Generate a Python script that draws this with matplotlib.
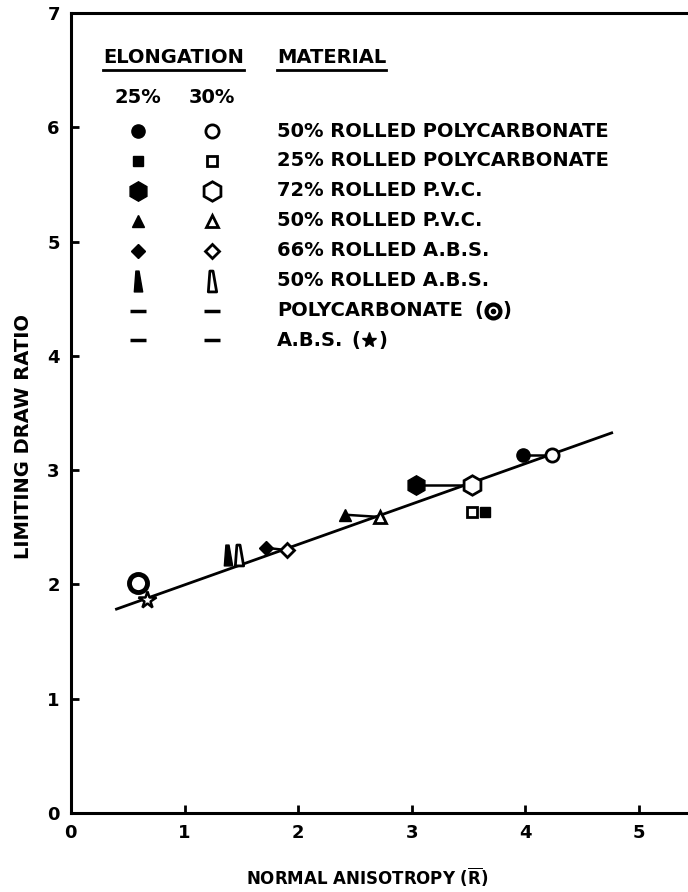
import matplotlib
matplotlib.use("Agg")
import matplotlib.pyplot as plt
from matplotlib.path import Path
from matplotlib.lines import Line2D

# values
materials = ["50% ROLLED POLYCARBONATE", "25% ROLLED POLYCARBONATE",
             "72% ROLLED P.V.C.", "50% ROLLED P.V.C.",
             "66% ROLLED A.B.S.", "50% ROLLED A.B.S."]
r_25 = [3.98, 3.64, 3.04, 2.41, 1.72, 1.38]      # 25% elongation, filled
ldr_25 = [3.13, 2.63, 2.87, 2.61, 2.32, 2.26]
r_30 = [4.23, 3.53, 3.53, 2.72, 1.90, 1.48]      # 30% elongation, open
ldr_30 = [3.13, 2.63, 2.87, 2.59, 2.30, 2.26]
joined = [True, False, True, True, True, False]

pc_r, pc_ldr = [0.59], [2.01]       # polycarbonate (ring)
abs_r, abs_ldr = [0.67], [1.86]     # A.B.S. (star)

fit_r = [0.39, 4.77]
fit_ldr = [1.78, 3.33]

x_ticks = [0, 1, 2, 3, 4, 5]
y_ticks = [0, 1, 2, 3, 4, 5, 6, 7]

plt.rcParams['font.family'] = ['DejaVu Sans']
plt.rcParams['font.weight'] = 'bold'
plt.rcParams['mathtext.fontset'] = 'dejavusans'

wedge = Path([(-0.25, 1.0), (0.05, 1.0), (0.4, -1.0), (-0.4, -1.0), (-0.25, 1.0)],
             [Path.MOVETO, Path.LINETO, Path.LINETO, Path.LINETO, Path.CLOSEPOLY])

# marker and size for each material
styles = [("o", 9.5), ("s", 7), ("h", 14), ("^", 9), ("D", 7), (wedge, 15)]

fig = plt.figure(figsize=(6.88, 8.92), dpi=100)
ax = fig.add_axes([0.103, 0.0886, 0.897, 0.8968])

ax.plot(fit_r, fit_ldr, color='k', lw=2.0, zorder=2, solid_capstyle='butt')

for i in range(len(materials)):
    m, ms = styles[i]
    if joined[i]:
        ax.plot([r_25[i], r_30[i]], [ldr_25[i], ldr_30[i]], color='k', lw=1.8, zorder=2)
    ax.plot(r_25[i], ldr_25[i], marker=m, ms=ms, color='k', mec='k', ls='none', zorder=3)
    ax.plot(r_30[i], ldr_30[i], marker=m, ms=ms, mfc='white', mec='k', mew=2.0,
            ls='none', zorder=3)

ax.plot(pc_r, pc_ldr, marker='o', ms=13, mfc='white', mec='k', mew=3.5, ls='none', zorder=3)
ax.plot(pc_r, pc_ldr, marker='*', ms=4, color='white', ls='none', zorder=4)
ax.plot(abs_r, abs_ldr, marker='*', ms=13, mfc='white', mec='k', mew=1.8, ls='none', zorder=3)

ax.set_xlim(0, 5.43)
ax.set_ylim(0, 7)
ax.set_xticks(x_ticks)
ax.set_yticks(y_ticks)
ax.tick_params(direction='in', length=6, width=2, labelsize=13, pad=8)
for lab in ax.get_xticklabels() + ax.get_yticklabels():
    lab.set_fontweight('bold')
for s in ['left', 'bottom', 'top']:
    ax.spines[s].set_linewidth(2.2)
ax.spines['right'].set_visible(False)

ax.set_xlabel(r"NORMAL ANISOTROPY $\mathbf{(}\overline{\mathbf{R}}\mathbf{)}$",
              fontsize=12, fontweight='bold')
ax.xaxis.set_label_coords(0.48, -0.066)
ax.set_ylabel("LIMITING DRAW RATIO", fontsize=14, fontweight='bold')
ax.yaxis.set_label_coords(-0.062, 0.47)

# key, drawn in axes fractions
col1, col2, col_txt = 0.109, 0.229, 0.334
row0, step = 0.8525, 0.0374
tkw = dict(transform=ax.transAxes, fontsize=14, fontweight='bold', va='center')

h1 = ax.text(0.166, 0.945, "ELONGATION", ha='center', **tkw)
h2 = ax.text(col_txt, 0.945, "MATERIAL", ha='left', **tkw)
ax.text(col1, 0.895, "25%", ha='center', **tkw)
ax.text(col2, 0.895, "30%", ha='center', **tkw)

for i in range(len(materials)):
    m, ms = styles[i]
    yy = row0 - i * step
    ax.plot(col1, yy, marker=m, ms=ms, color='k', transform=ax.transAxes,
            clip_on=False)
    ax.plot(col2, yy, marker=m, ms=ms, mfc='white', mec='k', mew=2.0,
            transform=ax.transAxes, clip_on=False)
    ax.text(col_txt, yy, materials[i], ha='left', **tkw)

extra = ["POLYCARBONATE", "A.B.S."]
txts = []
for j, name in enumerate(extra):
    yy = row0 - (6 + j) * step
    for cx in (col1, col2):
        ax.plot(cx, yy, marker='_', ms=11, mew=2.5, color='k',
                transform=ax.transAxes, clip_on=False)
    txts.append(ax.text(col_txt, yy, name, ha='left', **tkw))

fig.canvas.draw()
inv = ax.transAxes.inverted()
r = fig.canvas.get_renderer()

# underline the headings
for h in (h1, h2):
    bb = h.get_window_extent(r)
    (x0, y0), (x1, _) = inv.transform([(bb.x0, bb.y0 - 3), (bb.x1, bb.y0 - 3)])
    ax.add_line(Line2D([x0, x1], [y0, y0], color='k', lw=2.0, transform=ax.transAxes,
                       clip_on=False))

# "(symbol)" after the two single-material rows
for j, t in enumerate(txts):
    bb = t.get_window_extent(r)
    yy = row0 - (6 + j) * step
    gap = 16 if j == 0 else 12
    xo = inv.transform([(bb.x1 + gap, 0), (bb.x1 + gap + 14, 0), (bb.x1 + gap + 28, 0)])[:, 0]
    ax.text(xo[0], yy, "(", ha='center', **tkw)
    ax.text(xo[2], yy, ")", ha='center', **tkw)
    if j == 0:
        ax.plot(xo[1], yy, marker='o', ms=10, mfc='white', mec='k', mew=3.0,
                transform=ax.transAxes, clip_on=False)
        ax.plot(xo[1], yy, marker='o', ms=3, color='k', transform=ax.transAxes, clip_on=False)
    else:
        ax.plot(xo[1], yy, marker='*', ms=11, color='k', transform=ax.transAxes,
                clip_on=False)

fig.savefig("out.png", dpi=100)
